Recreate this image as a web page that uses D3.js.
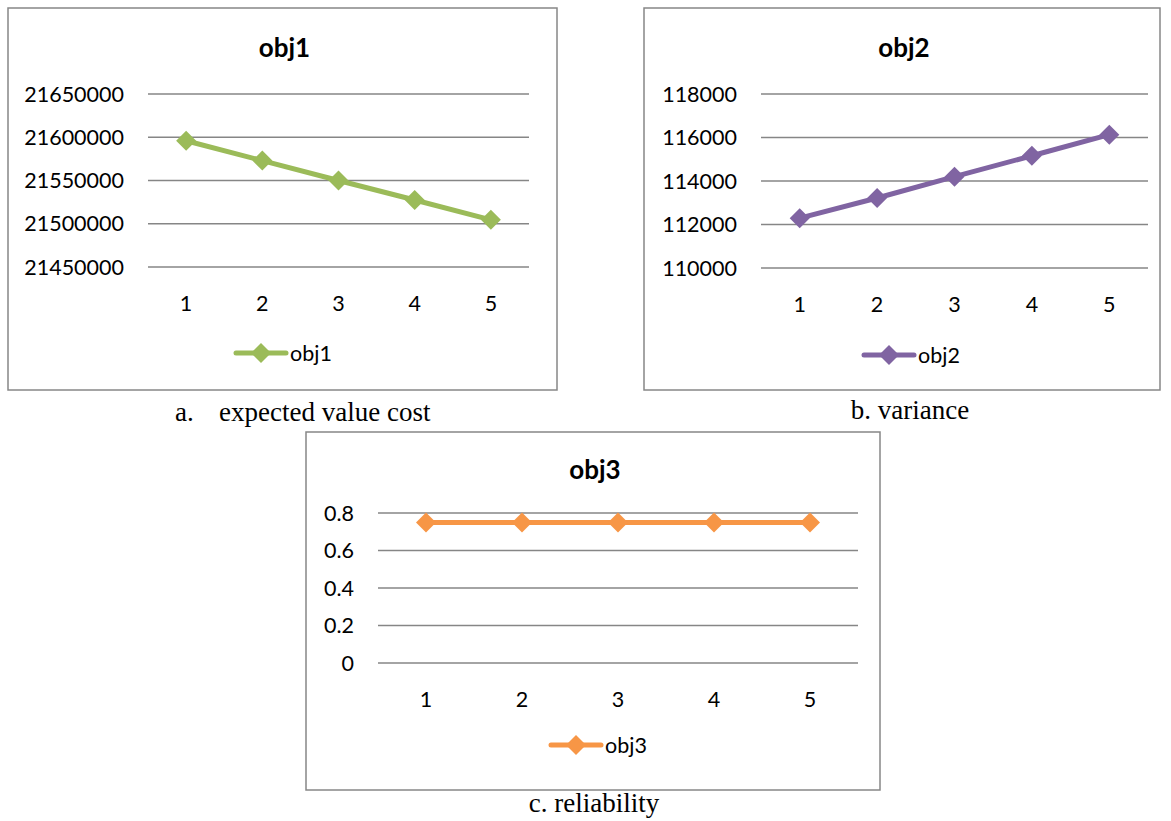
<!DOCTYPE html>
<html>
<head>
<meta charset="utf-8">
<script src="https://cdnjs.cloudflare.com/ajax/libs/d3/7.8.5/d3.min.js"></script>
<style>
  body { margin: 0; background: #fff; }
  svg text { font-family: Lato, "Open Sans", sans-serif; fill: #000; }
  svg text.caption { font-family: "Liberation Serif", "DejaVu Serif", serif; }
</style>
</head>
<body>
<svg id="chart" width="1171" height="821"></svg>
<script>
// data
var categories = [1, 2, 3, 4, 5];
var obj1Values = [21596000, 21573000, 21550000, 21527500, 21504500];
var obj2Values = [112290, 113220, 114200, 115160, 116130];
var obj3Values = [0.75, 0.75, 0.75, 0.75, 0.75];
var obj1Ticks = [21450000, 21500000, 21550000, 21600000, 21650000];
var obj2Ticks = [110000, 112000, 114000, 116000, 118000];
var obj3Ticks = [0, 0.2, 0.4, 0.6, 0.8];

var svg = d3.select("#chart");

var panels = [
  {
    name: "obj1", values: obj1Values, ticks: obj1Ticks, color: "#9BBB59",
    box: [8, 8, 557, 390], plot: [148, 94, 529, 267],
    titleY: 48, legendY: 353, legendX: 261,
    caption: ["a.", "expected value cost"], captionX: [175, 219], captionY: 421
  },
  {
    name: "obj2", values: obj2Values, ticks: obj2Ticks, color: "#8064A2",
    box: [644, 8, 1160, 390], plot: [761, 94, 1148, 268],
    titleY: 48, legendY: 355, legendX: 889,
    caption: ["b. variance"], captionX: [910], captionY: 419, captionCenter: true
  },
  {
    name: "obj3", values: obj3Values, ticks: obj3Ticks, color: "#F79646",
    box: [306, 432, 880, 790], plot: [378, 513, 858, 663],
    titleY: 470, legendY: 745, legendX: 576,
    caption: ["c. reliability"], captionX: [594], captionY: 812, captionCenter: true
  }
];

function diamond(g, x, y, color) {
  var r = 10;
  g.append("path")
    .attr("d", "M" + x + "," + (y - r) + "L" + (x + r) + "," + y + "L" + x + "," + (y + r) + "L" + (x - r) + "," + y + "Z")
    .attr("fill", color);
}

function drawPanel(p) {
  var g = svg.append("g");
  g.append("rect")
    .attr("x", p.box[0]).attr("y", p.box[1])
    .attr("width", p.box[2] - p.box[0]).attr("height", p.box[3] - p.box[1])
    .attr("fill", "#fff").attr("stroke", "#878787").attr("stroke-width", 1.5);

  var x = d3.scalePoint().domain(categories).range([p.plot[0], p.plot[2]]).padding(0.5);
  var y = d3.scaleLinear().domain([p.ticks[0], p.ticks[p.ticks.length - 1]]).range([p.plot[3], p.plot[1]]);

  // gridlines
  g.selectAll("line.grid").data(p.ticks).enter().append("line")
    .attr("x1", p.plot[0]).attr("x2", p.plot[2])
    .attr("y1", function(d) { return y(d); }).attr("y2", function(d) { return y(d); })
    .attr("stroke", "#868686").attr("stroke-width", 1.5);

  // y labels
  g.selectAll("text.ytick").data(p.ticks).enter().append("text")
    .attr("x", p.plot[0] - 24).attr("y", function(d) { return y(d); })
    .attr("dy", "0.35em").attr("text-anchor", "end")
    .style("font-size", "21.5px")
    .text(function(d) { return d; });

  // x labels
  g.selectAll("text.xtick").data(categories).enter().append("text")
    .attr("x", function(d) { return x(d); }).attr("y", p.plot[3] + 36)
    .attr("dy", "0.35em").attr("text-anchor", "middle")
    .style("font-size", "21.5px")
    .text(function(d) { return d; });

  // title
  g.append("text")
    .attr("x", (p.box[0] + p.box[2]) / 2 + 2).attr("y", p.titleY)
    .attr("dy", "0.35em").attr("text-anchor", "middle")
    .style("font-size", "26px").style("font-weight", "bold")
    .text(p.name);

  // series
  var line = d3.line()
    .x(function(d, i) { return x(categories[i]); })
    .y(function(d) { return y(d); });
  g.append("path").datum(p.values)
    .attr("d", line).attr("fill", "none")
    .attr("stroke", p.color).attr("stroke-width", 5).attr("stroke-linejoin", "round");
  p.values.forEach(function(v, i) {
    diamond(g, x(categories[i]), y(v), p.color);
  });

  // legend
  g.append("line")
    .attr("x1", p.legendX - 25).attr("x2", p.legendX + 25)
    .attr("y1", p.legendY).attr("y2", p.legendY)
    .attr("stroke", p.color).attr("stroke-width", 5).attr("stroke-linecap", "round");
  diamond(g, p.legendX, p.legendY, p.color);
  g.append("text")
    .attr("x", p.legendX + 29).attr("y", p.legendY)
    .attr("dy", "0.35em").style("font-size", "21.5px")
    .text(p.name);

  // caption under the box
  p.caption.forEach(function(c, i) {
    svg.append("text").attr("class", "caption")
      .attr("x", p.captionX[i]).attr("y", p.captionY)
      .attr("text-anchor", p.captionCenter ? "middle" : "start")
      .style("font-size", "27px")
      .text(c);
  });
}

panels.forEach(drawPanel);
</script>
</body>
</html>
